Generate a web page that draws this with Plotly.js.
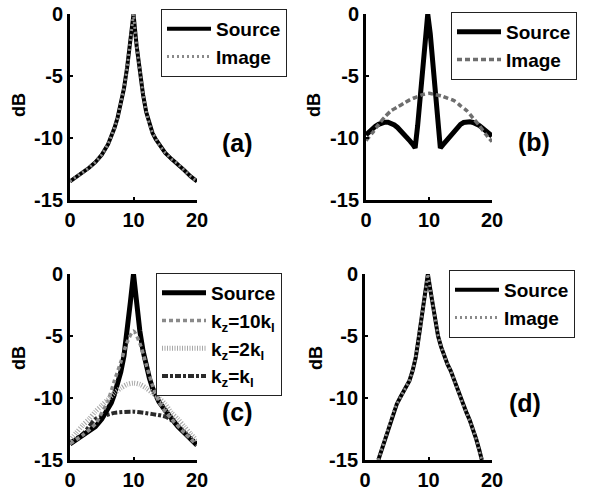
<!DOCTYPE html>
<html><head><meta charset="utf-8">
<script src="https://cdn.plot.ly/plotly-3.0.1.min.js"></script>
<style>html,body{margin:0;padding:0;background:#fff}#chart{width:597px;height:491px}</style>
</head><body><div id="chart"></div><script>
// ---- tick labels ----
const xTickVals = [0, 10, 20];
const xTickText = ['0', '10', '20'];
const yTickVals = [0, -5, -10, -15];
const yTickText = ['0', '-5', '-10', '-15'];

// ---- panel (a) ----
const xA = [0,1,2,3,4,5,6,6.5,7,7.5,8,8.5,9,9.5,10,10.5,11,11.5,12,12.5,13,13.5,14,14.5,15,16,17,18,19,20];
const srcA = [-13.5,-13.15,-12.8,-12.4,-11.95,-11.35,-10.5,-9.9,-9.2,-8.35,-7.3,-6.0,-4.3,-2.2,0,-2.6,-4.8,-6.5,-7.9,-8.9,-9.6,-10.1,-10.5,-10.85,-11.2,-11.7,-12.1,-12.6,-13.1,-13.5];
const imgA = [-13.5,-13.15,-12.8,-12.4,-11.95,-11.35,-10.5,-9.9,-9.2,-8.35,-7.3,-6.0,-4.3,-2.2,0,-2.6,-4.8,-6.5,-7.9,-8.9,-9.6,-10.1,-10.5,-10.85,-11.2,-11.7,-12.1,-12.6,-13.1,-13.5];

// ---- panel (b) ----
const xSrcB = [0,0.5,1,1.5,2,2.5,3,3.5,4,4.5,5,5.5,6,6.5,7,7.4,7.8,8.2,8.6,9.0,9.4,9.8,10.2,10.6,11.0,11.4,11.8,12.2,12.6,13,13.5,14,14.5,15,15.5,16,16.5,17,17.5,18,18.5,19,19.5,20];
const srcB = [-9.75,-9.5,-9.25,-9.05,-8.9,-8.78,-8.72,-8.72,-8.8,-8.95,-9.15,-9.4,-9.65,-9.95,-10.25,-10.5,-10.8,-9.0,-6.5,-4.0,-1.6,0,-1.6,-4.0,-6.5,-9.0,-10.8,-10.55,-10.3,-10.05,-9.7,-9.4,-9.1,-8.9,-8.75,-8.7,-8.7,-8.75,-8.85,-9.0,-9.2,-9.4,-9.6,-9.85];
const xImgB = [0,1,2,3,4,5,6,7,8,9,10,11,12,13,14,15,16,17,18,19,20];
const imgB = [-10.2,-9.6,-8.9,-8.3,-7.8,-7.5,-7.2,-6.9,-6.7,-6.5,-6.4,-6.5,-6.6,-6.8,-7.0,-7.4,-7.8,-8.4,-9.0,-9.7,-10.3];

// ---- panel (c) ----
const xSrcC = [0,1,2,3,4,5,6,6.5,7,7.5,8,8.5,9,9.5,10,10.5,11,11.5,12,12.5,13,13.5,14,15,16,17,18,19,20];
const srcC = [-13.7,-13.35,-13.0,-12.7,-12.3,-11.7,-10.95,-10.4,-9.7,-8.9,-7.9,-6.6,-4.8,-2.3,0,-2.6,-4.6,-6.2,-7.4,-8.4,-9.2,-9.8,-10.3,-11.0,-11.7,-12.3,-12.8,-13.3,-13.8];
const xK10C = [0,2,4,5,6,7,8,9,10,11,12,13,14,15,16,18,20];
const k10C = [-13.7,-13.0,-12.1,-11.2,-10.2,-8.6,-7.1,-5.5,-4.6,-5.6,-7.3,-9.0,-10.3,-11.1,-11.7,-12.8,-13.8];
const xK2C = [0,1,2,3,4,5,6,7,8,9,10,11,12,13,14,15,16,17,18,19,20];
const k2C = [-13.4,-12.8,-12.2,-11.7,-11.1,-10.6,-10.1,-9.6,-9.2,-8.9,-8.8,-8.9,-9.2,-9.6,-10.0,-10.5,-11.2,-11.7,-12.3,-12.9,-13.4];
const xK1C = [0,2,3,4,5,7,10,13,15,16,18,20];
const k1C = [-13.6,-12.9,-12.3,-11.7,-11.5,-11.2,-11.1,-11.3,-11.5,-11.8,-12.8,-13.7];

// ---- panel (d) ----
const xD = [2.1,2.6,3,3.5,4,4.5,5,5.5,6,6.5,7,7.5,8,8.5,9,9.5,9.9,10.3,10.7,11.1,11.5,12,12.5,13,13.5,14,14.5,15,15.5,16,16.5,17,17.5,18,18.4];
const srcD = [-15,-14.2,-13.6,-12.8,-11.9,-11.1,-10.5,-10.0,-9.5,-9.1,-8.6,-7.8,-6.7,-5.0,-3.3,-1.4,0,-1.3,-2.6,-3.9,-5.0,-5.9,-6.7,-7.3,-7.8,-8.5,-9.2,-10.0,-10.6,-11.2,-11.8,-12.5,-13.3,-14.2,-15];
const imgD = [-15,-14.2,-13.6,-12.8,-11.9,-11.1,-10.5,-10.0,-9.5,-9.1,-8.6,-7.8,-6.7,-5.0,-3.3,-1.4,0,-1.3,-2.6,-3.9,-5.0,-5.9,-6.7,-7.3,-7.8,-8.5,-9.2,-10.0,-10.6,-11.2,-11.8,-12.5,-13.3,-14.2,-15];

const seriesNames = ['Source', 'Image'];
const namesC = ['Source', 'k<sub>z</sub>=10k<sub>l</sub>', 'k<sub>z</sub>=2k<sub>l</sub>', 'k<sub>z</sub>=k<sub>l</sub>'];
const panelLabels = ['(a)', '(b)', '(c)', '(d)'];
const yLabel = 'dB';

const FONT = 'Liberation Sans, Arial, Helvetica, sans-serif';
const BLACK = '#000';

function src(x, y, xa, ya, lg, w) {
  return {x, y, xaxis: xa, yaxis: ya, legend: lg, name: seriesNames[0], mode: 'lines',
          line: {color: BLACK, width: w}, hoverinfo: 'skip'};
}
function dashed(x, y, xa, ya, lg, name, color, dash, w, smooth) {
  const line = {color, width: w, dash};
  if (smooth) { line.shape = 'spline'; line.smoothing = 0.7; }
  return {x, y, xaxis: xa, yaxis: ya, legend: lg, name, mode: 'lines', line, hoverinfo: 'skip'};
}

const traces = [
  src(xA, srcA, 'x', 'y', 'legend', 4),
  dashed(xA, imgA, 'x', 'y', 'legend', seriesNames[1], '#8a8a8a', '2px,3px', 3, false),
  src(xSrcB, srcB, 'x2', 'y2', 'legend2', 5),
  dashed(xImgB, imgB, 'x2', 'y2', 'legend2', seriesNames[1], '#6e6e6e', '5px,3px', 3.5, true),
  dashed(xK1C, k1C, 'x3', 'y3', 'legend3', namesC[3], '#2a2a2a', '6px,2px,3px,2px', 4, true),
  src(xSrcC, srcC, 'x3', 'y3', 'legend3', 5),
  dashed(xK10C, k10C, 'x3', 'y3', 'legend3', namesC[1], '#8a8a8a', '4px,3px', 3.5, true),
  dashed(xK2C, k2C, 'x3', 'y3', 'legend3', namesC[2], '#a8a8a8', '1px,1.5px', 5, true),
  src(xD, srcD, 'x4', 'y4', 'legend4', 4),
  dashed(xD, imgD, 'x4', 'y4', 'legend4', seriesNames[1], '#8a8a8a', '2px,3px', 3, false)
];
// legend order for (c)
traces[5].legendrank = 1; traces[6].legendrank = 2; traces[7].legendrank = 3; traces[4].legendrank = 4;

const W = 597, H = 491;
function xax(l, r, anchor) {
  return {domain: [l / W, r / W], anchor, range: [0, 20], tickvals: xTickVals, ticktext: xTickText,
          showline: true, linecolor: BLACK, linewidth: 3, ticks: 'inside', ticklen: 3, tickwidth: 2,
          tickcolor: BLACK, showgrid: false, zeroline: false, fixedrange: true,
          tickfont: {family: FONT, size: 20, weight: 'bold', color: BLACK}};
}
function yax(top, bottom, anchor) {
  return {domain: [1 - bottom / H, 1 - top / H], anchor, range: [-15, 0], tickvals: yTickVals, ticktext: yTickText,
          showline: true, linecolor: BLACK, linewidth: 3, ticks: 'inside', ticklen: 3, tickwidth: 2,
          tickcolor: BLACK, showgrid: false, zeroline: false, fixedrange: true,
          tickfont: {family: FONT, size: 20, weight: 'bold', color: BLACK}};
}
function leg(x, y) {
  return {x: x / W, y: 1 - y / H, xanchor: 'left', yanchor: 'top', bgcolor: '#fff',
          bordercolor: '#222', borderwidth: 1, font: {family: FONT, size: 19, weight: 'bold', color: BLACK},
          tracegroupgap: 0, itemwidth: 44, itemclick: false, itemdoubleclick: false};
}
const labelPos = [[237, 143], [534, 142], [237, 412], [525, 403]];
const dbPos = [[19, 105], [314, 105], [19, 358], [316, 358]];
const annotations = [];
panelLabels.forEach((t, i) => annotations.push({text: t, x: labelPos[i][0] / W, y: 1 - labelPos[i][1] / H,
  xref: 'paper', yref: 'paper', showarrow: false, xanchor: 'center', yanchor: 'middle',
  font: {family: FONT, size: 25, weight: 'bold', color: BLACK}}));
dbPos.forEach(p => annotations.push({text: yLabel, x: p[0] / W, y: 1 - p[1] / H, xref: 'paper', yref: 'paper',
  showarrow: false, textangle: -90, xanchor: 'center', yanchor: 'middle',
  font: {family: FONT, size: 18, weight: 'bold', color: BLACK}}));

const layout = {
  width: W, height: H, margin: {l: 0, r: 0, t: 0, b: 0}, paper_bgcolor: '#fff', plot_bgcolor: '#fff',
  showlegend: true,
  xaxis: xax(70, 197, 'y'), yaxis: yax(14, 200, 'x'),
  xaxis2: xax(366, 492, 'y2'), yaxis2: yax(14, 200, 'x2'),
  xaxis3: xax(70, 197, 'y3'), yaxis3: yax(274, 460, 'x3'),
  xaxis4: xax(365, 492, 'y4'), yaxis4: yax(274, 460, 'x4'),
  legend: leg(161, 9), legend2: leg(451, 12), legend3: leg(156, 273), legend4: leg(449, 270),
  annotations
};
Plotly.newPlot('chart', traces, layout, {staticPlot: true, displayModeBar: false});
</script></body></html>
